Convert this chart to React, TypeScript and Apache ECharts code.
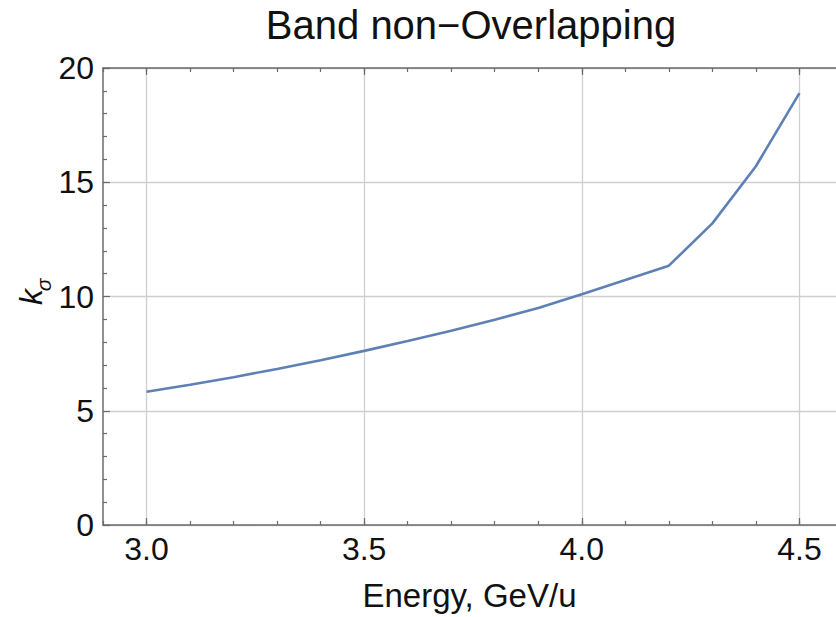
import React, { useEffect, useRef } from 'react';
import * as echarts from 'echarts';

const energy = [3.0, 3.1, 3.2, 3.3, 3.4, 3.5, 3.6, 3.7, 3.8, 3.9, 4.0, 4.1, 4.2, 4.3, 4.4, 4.5];
const kSigma = [5.83, 6.14, 6.47, 6.83, 7.21, 7.62, 8.05, 8.5, 8.98, 9.5, 10.1, 10.72, 11.35, 13.2, 15.7, 18.9];
const xMajorTicks = [3.0, 3.5, 4.0, 4.5];
const xMinorTicks = [2.9, 3.0, 3.1, 3.2, 3.3, 3.4, 3.5, 3.6, 3.7, 3.8, 3.9, 4.0, 4.1, 4.2, 4.3, 4.4, 4.5];
const titleText = 'Band non−Overlapping';
const xName = 'Energy, GeV/u';

const FONT = '"Liberation Sans", Arial, sans-serif';
const AXIS = '#6b6b6b';
const GRID = '#cfcfcf';

export default function App() {
  const ref = useRef<HTMLDivElement>(null);
  useEffect(() => {
    if (!ref.current) return;
    const chart = echarts.init(ref.current, null, { renderer: 'svg' });
    const xMin = 2.9;
    const xMax = 4.584;
    const minorAxis = (pos: 'top' | 'bottom') => ({
      type: 'value', position: pos, min: xMin, max: xMax,
      axisLine: { show: false },
      axisTick: { show: true, inside: true, length: 4, customValues: xMinorTicks, lineStyle: { color: AXIS, width: 1.2 } },
      axisLabel: { show: false },
      splitLine: { show: false },
    });
    chart.setOption({
      animation: false,
      backgroundColor: '#ffffff',
      grid: { left: 103, top: 68, right: 0, bottom: 92, containLabel: false },
      xAxis: [
        {
          type: 'value', position: 'bottom', min: xMin, max: xMax,
          axisLine: { show: true, lineStyle: { color: AXIS, width: 1.5 } },
          axisTick: { show: true, inside: true, length: 7, customValues: xMajorTicks, lineStyle: { color: AXIS, width: 1.2 } },
          axisLabel: { customValues: xMajorTicks, formatter: (v: number) => v.toFixed(1), fontSize: 32, color: '#111', margin: 8, fontFamily: FONT },
          splitLine: { show: true, lineStyle: { color: GRID, width: 1.3 } },
          name: xName, nameLocation: 'middle', nameGap: 54,
          nameTextStyle: { fontSize: 33, color: '#111', fontFamily: FONT },
        },
        minorAxis('bottom'),
        {
          type: 'value', position: 'top', min: xMin, max: xMax,
          axisLine: { show: true, lineStyle: { color: AXIS, width: 1.5 } },
          axisTick: { show: true, inside: true, length: 7, customValues: xMajorTicks, lineStyle: { color: AXIS, width: 1.2 } },
          axisLabel: { show: false },
          splitLine: { show: false },
        },
        minorAxis('top'),
      ],
      yAxis: [
        {
          type: 'value', position: 'left', min: 0, max: 20, interval: 5,
          axisLine: { show: true, lineStyle: { color: AXIS, width: 1.5 } },
          axisTick: { show: true, inside: true, length: 7, lineStyle: { color: AXIS, width: 1.2 } },
          minorTick: { show: true, splitNumber: 5, length: 4, lineStyle: { color: AXIS, width: 1.2 } },
          axisLabel: { fontSize: 32, color: '#111', margin: 9, fontFamily: FONT },
          splitLine: { show: true, lineStyle: { color: GRID, width: 1.3 } },
        },
      ],
      graphic: [
        {
          type: 'text', x: 471, y: 25,
          style: { text: titleText, fontSize: 40, fontFamily: FONT, fill: '#111', align: 'center', verticalAlign: 'middle' },
        },
        {
          type: 'text', x: 31, y: 297, rotation: Math.PI / 2,
          style: { text: 'k', fontSize: 32, fontStyle: 'italic', fontFamily: FONT, fill: '#111', align: 'center', verticalAlign: 'middle' },
        },
        {
          type: 'text', x: 43, y: 285, rotation: Math.PI / 2,
          style: { text: 'σ', fontSize: 21, fontStyle: 'italic', fontFamily: FONT, fill: '#111', align: 'center', verticalAlign: 'middle' },
        },
      ],
      series: [
        {
          type: 'line', xAxisIndex: 0, yAxisIndex: 0,
          data: energy.map((e, i) => [e, kSigma[i]]),
          showSymbol: false, symbol: 'none',
          lineStyle: { color: '#5e81b5', width: 2.6 },
          silent: true,
        },
      ],
    });
    return () => chart.dispose();
  }, []);
  return <div ref={ref} style={{ position: 'absolute', left: 0, top: 0, width: 836, height: 617 }} />;
}
